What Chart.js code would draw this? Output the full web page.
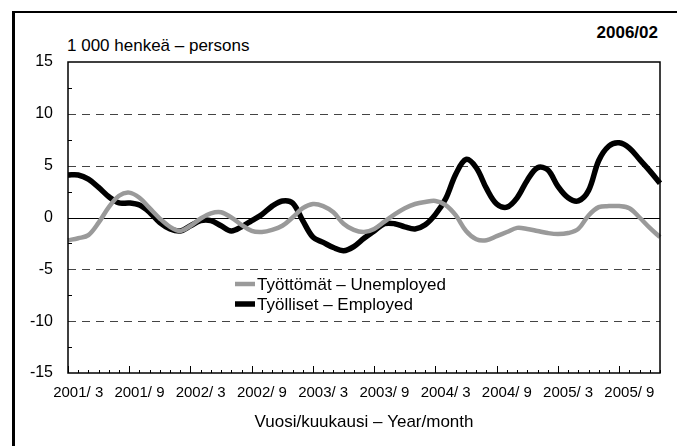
<!DOCTYPE html>
<html>
<head>
<meta charset="utf-8">
<script src="https://cdn.jsdelivr.net/npm/chart.js@4.4.0/dist/chart.umd.min.js"></script>
<style>
    html, body { margin: 0; padding: 0; background: #fff; overflow: hidden; }
    #wrap { position: relative; width: 677px; height: 446px; }
    #frame { position: absolute; left: 12px; top: 11px; width: 700px; height: 460px;
             border-left: 3px solid #000; border-top: 2px solid #000; }
    .txt { position: absolute; font-family: Arial, 'Liberation Sans', sans-serif; color: #000; white-space: nowrap; }
    #unit { left: 67px; top: 36px; font-size: 17px; }
    #date { right: 19px; top: 23px; font-size: 17px; font-weight: bold; }
    canvas { position: absolute; left: 0; top: 0; }
</style>
</head>
<body>
<div id="wrap">
    <div id="frame"></div>
    <div class="txt" id="unit">1 000 henkeä – persons</div>
    <div class="txt" id="date">2006/02</div>
    <canvas id="chart" width="677" height="446"></canvas>
</div>
<script>
// kuukaudet 2001/2 - 2005/12
const kuukaudet = [
    "2001/ 2", "2001/ 3", "2001/ 4", "2001/ 5", "2001/ 6", "2001/ 7", "2001/ 8", "2001/ 9", "2001/10", "2001/11", "2001/12",
    "2002/ 1", "2002/ 2", "2002/ 3", "2002/ 4", "2002/ 5", "2002/ 6", "2002/ 7", "2002/ 8", "2002/ 9", "2002/10", "2002/11", "2002/12",
    "2003/ 1", "2003/ 2", "2003/ 3", "2003/ 4", "2003/ 5", "2003/ 6", "2003/ 7", "2003/ 8", "2003/ 9", "2003/10", "2003/11", "2003/12",
    "2004/ 1", "2004/ 2", "2004/ 3", "2004/ 4", "2004/ 5", "2004/ 6", "2004/ 7", "2004/ 8", "2004/ 9", "2004/10", "2004/11", "2004/12",
    "2005/ 1", "2005/ 2", "2005/ 3", "2005/ 4", "2005/ 5", "2005/ 6", "2005/ 7", "2005/ 8", "2005/ 9", "2005/10", "2005/11", "2005/12"
];

const naytettavat = ["2001/ 3", "2001/ 9", "2002/ 3", "2002/ 9", "2003/ 3", "2003/ 9", "2004/ 3", "2004/ 9", "2005/ 3", "2005/ 9"];

// Työttömät - Unemployed, muutos 1 000 henkeä
const tyottomat = [
    -2.2, -2.0, -1.7, -0.5, 1.0, 2.1, 2.4, 1.9, 0.9, -0.1, -0.9,
    -1.3, -0.8, -0.1, 0.4, 0.5, 0.0, -0.7, -1.3, -1.4, -1.2, -0.8, 0.0,
    0.9, 1.3, 1.1, 0.5, -0.6, -1.2, -1.4, -1.1, -0.4, 0.3, 0.9, 1.3,
    1.5, 1.6, 1.2, 0.2, -1.3, -2.1, -2.2, -1.8, -1.4, -1.0, -1.1, -1.3,
    -1.5, -1.6, -1.5, -1.1, 0.2, 1.0, 1.1, 1.1, 0.9, 0.0, -1.0, -1.9
];

// Työlliset - Employed
const tyolliset = [
    4.1, 4.1, 3.7, 2.9, 2.0, 1.4, 1.4, 1.2, 0.5, -0.5, -1.1,
    -1.3, -0.8, -0.3, -0.3, -0.8, -1.3, -0.9, -0.3, 0.3, 1.1, 1.6, 1.4,
    -0.3, -1.9, -2.4, -2.9, -3.2, -2.8, -2.0, -1.3, -0.6, -0.6, -0.9, -1.1,
    -0.7, 0.3, 1.8, 4.2, 5.6, 4.8, 2.8, 1.3, 1.0, 1.9, 3.6, 4.8,
    4.6, 3.0, 1.9, 1.6, 2.6, 5.5, 6.9, 7.2, 6.7, 5.6, 4.5, 3.3
];

const yGrid = [10, 5, -5, -10];
const fontti = "Arial, 'Liberation Sans', sans-serif";

const koristeet = {
    id: 'koristeet',
    beforeDatasetsDraw(chart) {
        const { ctx, chartArea: a, scales: { y } } = chart;
        ctx.save();
        ctx.strokeStyle = '#444';
        ctx.lineWidth = 1;
        ctx.setLineDash([8, 6]);
        yGrid.forEach(v => {
            const py = Math.round(y.getPixelForValue(v)) + 0.5;
            ctx.beginPath();
            ctx.moveTo(a.left, py);
            ctx.lineTo(a.right, py);
            ctx.stroke();
        });
        ctx.setLineDash([]);
        ctx.strokeStyle = '#000';
        const py0 = Math.round(y.getPixelForValue(0)) + 0.5;
        ctx.beginPath();
        ctx.moveTo(a.left, py0);
        ctx.lineTo(a.right, py0);
        ctx.stroke();
        ctx.restore();
    },
    afterDatasetsDraw(chart) {
        const { ctx, chartArea: a, scales: { x, y } } = chart;
        ctx.save();
        // kehys
        ctx.strokeStyle = '#000';
        ctx.lineWidth = 1.5;
        ctx.strokeRect(a.left, a.top, a.right - a.left, a.bottom - a.top);

        // x-akselin merkit sisäänpäin
        ctx.lineWidth = 1;
        for (let i = 0; i < kuukaudet.length; i++) {
            const px = Math.round(x.getPixelForValue(i)) + 0.5;
            const len = (i % 6 === 0) ? 7 : 3;
            ctx.beginPath();
            ctx.moveTo(px, a.bottom);
            ctx.lineTo(px, a.bottom - len);
            ctx.stroke();
        }
        // y-akselin välimerkit
        [12.5, 7.5, 2.5, -2.5, -7.5, -12.5].forEach(v => {
            const py = Math.round(y.getPixelForValue(v)) + 0.5;
            ctx.beginPath();
            ctx.moveTo(a.left, py);
            ctx.lineTo(a.left + 4, py);
            ctx.stroke();
        });

        // selite
        const lx = 235, ly = 284, rivi = 20;
        ctx.font = '17px ' + fontti;
        ctx.textBaseline = 'middle';
        ctx.fillStyle = '#000';
        chart.data.datasets.forEach((ds, k) => {
            const yy = ly + k * rivi;
            ctx.strokeStyle = ds.borderColor;
            ctx.lineWidth = ds.borderWidth;
            ctx.beginPath();
            ctx.moveTo(lx, yy);
            ctx.lineTo(lx + 20, yy);
            ctx.stroke();
            ctx.fillText(ds.label, lx + 22, yy + 1);
        });
        ctx.restore();
    }
};

new Chart(document.getElementById('chart'), {
    type: 'line',
    data: {
        labels: kuukaudet,
        datasets: [
            {
                label: 'Työttömät – Unemployed',
                data: tyottomat,
                borderColor: '#9a9a9a',
                borderWidth: 4.5,
                pointRadius: 0,
                tension: 0.35,
                fill: false
            },
            {
                label: 'Työlliset – Employed',
                data: tyolliset,
                borderColor: '#000',
                borderWidth: 5.5,
                pointRadius: 0,
                tension: 0.35,
                fill: false
            }
        ]
    },
    options: {
        responsive: false,
        animation: false,
        layout: { padding: { left: 0, top: 62, right: 17, bottom: 0 } },
        plugins: {
            legend: { display: false },
            tooltip: { enabled: false }
        },
        scales: {
            x: {
                type: 'category',
                offset: false,
                grid: { display: false, drawTicks: false },
                border: { display: false },
                ticks: {
                    autoSkip: false,
                    maxRotation: 0,
                    padding: 11,
                    color: '#000',
                    font: { family: fontti, size: 15 },
                    callback: function (v, i) {
                        const k = kuukaudet[i];
                        return naytettavat.includes(k) ? k : '';
                    }
                },
                title: {
                    display: true,
                    text: 'Vuosi/kuukausi – Year/month',
                    color: '#000',
                    font: { family: fontti, size: 17 },
                    padding: { top: 0, bottom: 13 }
                },
                afterFit: s => { s.height = 73; }
            },
            y: {
                min: -15,
                max: 15,
                grid: { display: false, drawTicks: false },
                border: { display: false },
                ticks: {
                    stepSize: 2.5,
                    padding: 15,
                    color: '#000',
                    font: { family: fontti, size: 16 },
                    callback: v => (v % 5 === 0 ? v : '')
                },
                afterFit: s => { s.width = 68; }
            }
        }
    },
    plugins: [koristeet]
});
</script>
</body>
</html>
